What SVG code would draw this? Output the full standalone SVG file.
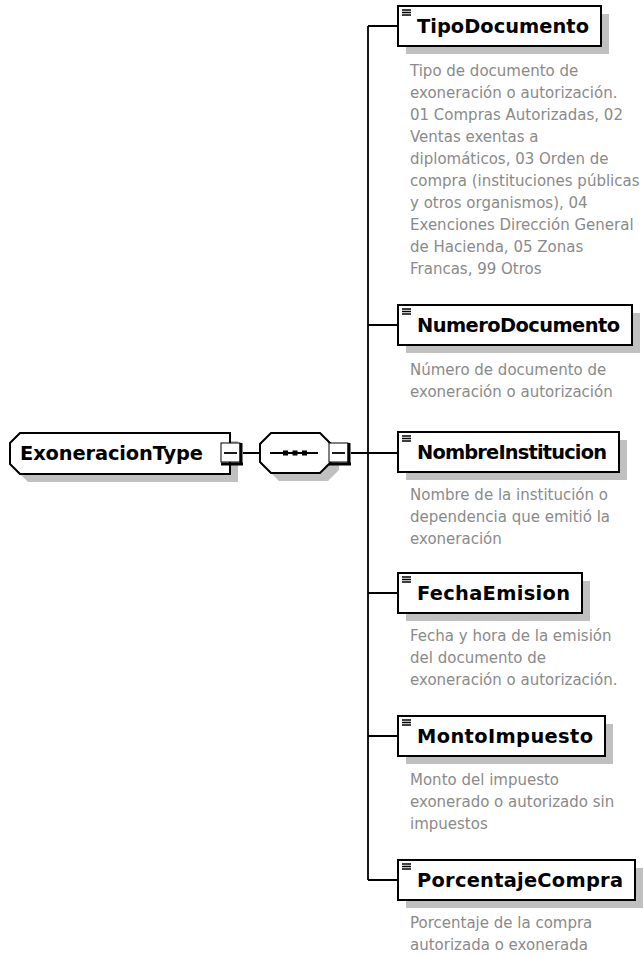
<svg xmlns="http://www.w3.org/2000/svg" width="644" height="956" viewBox="0 0 644 956">
<style>
.sh{fill:#c0c0c0;stroke:none}
.box{fill:#fff;stroke:#000;stroke-width:2}
.ic{stroke:#000;stroke-width:1.3;fill:none}
.nm{font-family:"DejaVu Sans",Verdana,sans-serif;font-weight:bold;font-size:19.4px;fill:#000}
.ds{font-family:"DejaVu Sans",Verdana,sans-serif;font-size:15px;fill:#8a8a8a}
.ln{stroke:#000;stroke-width:1.8;fill:none}
.mb{fill:#fff;stroke:#000;stroke-width:1}
.mt{stroke:#000;stroke-width:3;fill:none}
</style>
<g id="connectors">
 <path class="ln" d="M243 453H260M351 453H398M368 26V880M368 26H398M368 325H398M368 593H398M368 736H398M368 880H398"/>
</g>
<g id="ExoneracionType">
 <path class="sh" d="M28 441H238V482H28L18 472V451Z"/>
 <path class="box" d="M20 433H230V474H20L10 464V443Z"/>
 <text class="nm" x="20" y="460" textLength="183">ExoneracionType</text>
 <rect class="mb" x="221" y="443" width="19" height="19"/>
 <path class="mt" d="M241 443V465M221 464H243"/>
 <path class="ln" d="M224 453H237"/>
</g>
<g id="sequence">
 <path class="sh" d="M279 441H328L339 452V470L328 481H279L268 470V452Z"/>
 <path class="box" d="M271 433H320L331 444V462L320 473H271L260 462V444Z"/>
 <path class="ln" d="M270 453H318"/>
 <rect x="283" y="450.5" width="5" height="5" fill="#000"/>
 <rect x="292.5" y="450.5" width="5" height="5" fill="#000"/>
 <rect x="302" y="450.5" width="5" height="5" fill="#000"/>
 <rect class="mb" x="329" y="443" width="19" height="19"/>
 <path class="mt" d="M349 443V465M329 464H351"/>
 <path class="ln" d="M332 453H345"/>
</g>
<g id="TipoDocumento">
 <rect class="sh" x="406" y="14" width="203" height="40"/>
 <rect class="box" x="398" y="6" width="203" height="40"/>
 <path class="ic" d="M402 10h9M402 12.5h9M402 15h9"/>
 <text class="nm" x="417" y="33" textLength="172">TipoDocumento</text>
 <text class="ds" x="410" y="76">Tipo de documento de</text>
 <text class="ds" x="410" y="98">exoneración o autorización.</text>
 <text class="ds" x="410" y="120">01 Compras Autorizadas, 02</text>
 <text class="ds" x="410" y="142">Ventas exentas a</text>
 <text class="ds" x="410" y="164">diplomáticos, 03 Orden de</text>
 <text class="ds" x="410" y="186">compra (instituciones públicas</text>
 <text class="ds" x="410" y="208">y otros organismos), 04</text>
 <text class="ds" x="410" y="230">Exenciones Dirección General</text>
 <text class="ds" x="410" y="252">de Hacienda, 05 Zonas</text>
 <text class="ds" x="410" y="274">Francas, 99 Otros</text>
</g>
<g id="NumeroDocumento">
 <rect class="sh" x="406" y="313" width="234" height="40"/>
 <rect class="box" x="398" y="305" width="234" height="40"/>
 <path class="ic" d="M402 309h9M402 311.5h9M402 314h9"/>
 <text class="nm" x="417" y="332" textLength="203">NumeroDocumento</text>
 <text class="ds" x="410" y="375">Número de documento de</text>
 <text class="ds" x="410" y="397">exoneración o autorización</text>
</g>
<g id="NombreInstitucion">
 <rect class="sh" x="406" y="440" width="221" height="40"/>
 <rect class="box" x="398" y="432" width="221" height="40"/>
 <path class="ic" d="M402 436h9M402 438.5h9M402 441h9"/>
 <text class="nm" x="417" y="459" textLength="190">NombreInstitucion</text>
 <text class="ds" x="410" y="500">Nombre de la institución o</text>
 <text class="ds" x="410" y="522">dependencia que emitió la</text>
 <text class="ds" x="410" y="544">exoneración</text>
</g>
<g id="FechaEmision">
 <rect class="sh" x="406" y="581" width="184" height="40"/>
 <rect class="box" x="398" y="573" width="184" height="40"/>
 <path class="ic" d="M402 577h9M402 579.5h9M402 582h9"/>
 <text class="nm" x="417" y="600" textLength="153">FechaEmision</text>
 <text class="ds" x="410" y="641">Fecha y hora de la emisión</text>
 <text class="ds" x="410" y="663">del documento de</text>
 <text class="ds" x="410" y="685">exoneración o autorización.</text>
</g>
<g id="MontoImpuesto">
 <rect class="sh" x="406" y="724" width="207" height="40"/>
 <rect class="box" x="398" y="716" width="207" height="40"/>
 <path class="ic" d="M402 720h9M402 722.5h9M402 725h9"/>
 <text class="nm" x="417" y="743" textLength="176">MontoImpuesto</text>
 <text class="ds" x="410" y="785">Monto del impuesto</text>
 <text class="ds" x="410" y="807">exonerado o autorizado sin</text>
 <text class="ds" x="410" y="829">impuestos</text>
</g>
<g id="PorcentajeCompra">
 <rect class="sh" x="406" y="868" width="237" height="40"/>
 <rect class="box" x="398" y="860" width="237" height="40"/>
 <path class="ic" d="M402 864h9M402 866.5h9M402 869h9"/>
 <text class="nm" x="417" y="887" textLength="206">PorcentajeCompra</text>
 <text class="ds" x="410" y="928">Porcentaje de la compra</text>
 <text class="ds" x="410" y="950">autorizada o exonerada</text>
</g>
</svg>
